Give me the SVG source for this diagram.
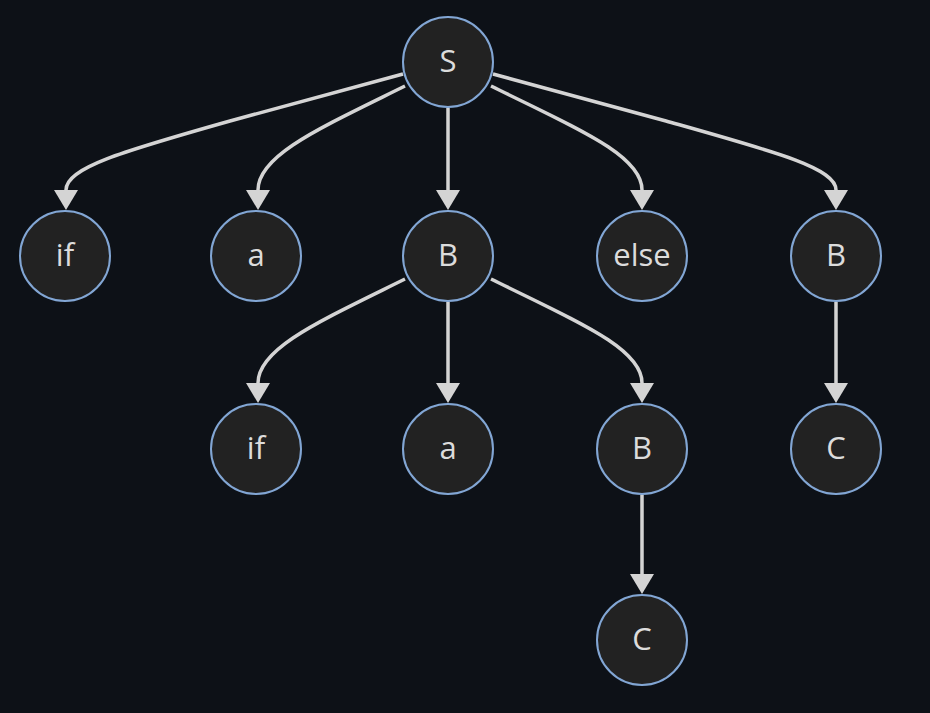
<svg xmlns="http://www.w3.org/2000/svg" width="930" height="713" viewBox="0 0 930 713">
<defs>
<style>
.edge{fill:none;stroke:#d4d4d4;stroke-width:3.5;marker-end:url(#arr)}
.node circle{fill:#222222;stroke:#82a6d4;stroke-width:2}
.node text{fill:#dcdcdc;font-family:"Open Sans","Noto Sans",sans-serif;font-size:31px;text-anchor:middle;dominant-baseline:central}
</style>
<marker id="arr" markerUnits="userSpaceOnUse" markerWidth="20" markerHeight="24" viewBox="0 0 20 24" refX="0" refY="12" orient="auto">
<path d="M0,0 L20,12 L0,24 z" fill="#d4d4d4"/>
</marker>
</defs>
<rect width="930" height="713" fill="#0d1117"/>
<g id="edges">
<path class="edge" d="M403,74 L230,121 C120,152 66,168 66,190"/>
<path class="edge" d="M405,86 C320,128 258,155 258,190"/>
<path class="edge" d="M448,108 L448,190"/>
<path class="edge" d="M491,86 C576,128 642,155 642,190"/>
<path class="edge" d="M493,74 L666,121 C776,152 836,168 836,190"/>
<path class="edge" d="M405,279 C320,321 258,348 258,383"/>
<path class="edge" d="M448,302 L448,383"/>
<path class="edge" d="M491,279 C576,321 642,348 642,383"/>
<path class="edge" d="M836,302 L836,383"/>
<path class="edge" d="M642,495 L642,574"/>
</g>
<g id="S" class="node"><circle cx="448" cy="62" r="45"/><text x="448" y="60">S</text></g>
<g id="if1" class="node"><circle cx="65" cy="256" r="45"/><text x="65" y="254">if</text></g>
<g id="a1" class="node"><circle cx="256" cy="256" r="45"/><text x="256" y="254">a</text></g>
<g id="B1" class="node"><circle cx="448" cy="256" r="45"/><text x="448" y="254">B</text></g>
<g id="else" class="node"><circle cx="642" cy="256" r="45"/><text x="642" y="254">else</text></g>
<g id="B2" class="node"><circle cx="836" cy="256" r="45"/><text x="836" y="254">B</text></g>
<g id="if2" class="node"><circle cx="256" cy="449" r="45"/><text x="256" y="447">if</text></g>
<g id="a2" class="node"><circle cx="448" cy="449" r="45"/><text x="448" y="447">a</text></g>
<g id="B3" class="node"><circle cx="642" cy="449" r="45"/><text x="642" y="447">B</text></g>
<g id="C2" class="node"><circle cx="836" cy="449" r="45"/><text x="836" y="447">C</text></g>
<g id="C1" class="node"><circle cx="642" cy="640" r="45"/><text x="642" y="638">C</text></g>
</svg>
